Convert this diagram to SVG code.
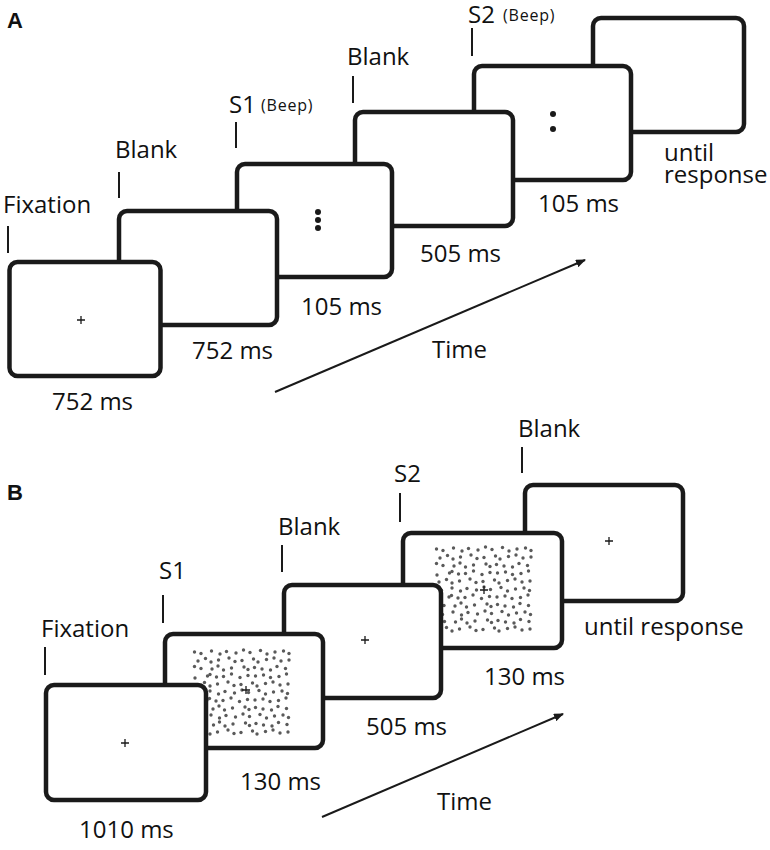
<svg xmlns="http://www.w3.org/2000/svg" xmlns:xlink="http://www.w3.org/1999/xlink" width="770" height="850" viewBox="0 0 770 850">
<style>
.scr{fill:#fff;stroke:#1a1a1a;stroke-width:4.5}
.tick{stroke:#1a1a1a;stroke-width:2}
.t{font-family:"Open Sans","Noto Sans",sans-serif;font-size:24px;fill:#111}
.s{font-family:"Open Sans","Noto Sans",sans-serif;font-size:16px;fill:#111;letter-spacing:0.8px}
.pl{font-family:"Liberation Sans",Arial,sans-serif;font-size:22px;font-weight:bold;fill:#111}
.cr{stroke:#1a1a1a;stroke-width:1.3}
.dt{fill:#1a1a1a}
.arr{stroke:#1a1a1a;stroke-width:2;fill:none}
</style>
<defs>
<marker id="ah" markerWidth="10" markerHeight="8" refX="9" refY="4" orient="auto" markerUnits="userSpaceOnUse" viewBox="0 0 10 8">
<path d="M0,0 L10,4 L0,8 Z" fill="#1a1a1a"/>
</marker>
<g id="cross"><path class="cr" d="M-4,0 H4 M0,-4 V4"/></g>
<g id="r1" fill="#5a5a5a"><circle cx="1.5" cy="0" r="1.7"/><circle cx="8" cy="1.5" r="1.7"/><circle cx="18.5" cy="-1" r="1.7"/><circle cx="27" cy="2" r="1.7"/><circle cx="33.5" cy="-0.5" r="1.7"/><circle cx="43" cy="1" r="1.7"/><circle cx="50.5" cy="-2" r="1.7"/><circle cx="57" cy="0.5" r="1.7"/><circle cx="67.5" cy="-1.5" r="1.7"/><circle cx="74" cy="2" r="1.7"/><circle cx="82" cy="0" r="1.7"/><circle cx="90.5" cy="-1" r="1.7"/><circle cx="96" cy="1.5" r="1.7"/></g>
<g id="r2" fill="#5a5a5a"><circle cx="4" cy="1" r="1.7"/><circle cx="11.5" cy="-1.5" r="1.7"/><circle cx="17" cy="2" r="1.7"/><circle cx="24.5" cy="0" r="1.7"/><circle cx="35" cy="-2" r="1.7"/><circle cx="41" cy="1.5" r="1.7"/><circle cx="48" cy="0.5" r="1.7"/><circle cx="59.5" cy="-1" r="1.7"/><circle cx="64" cy="2" r="1.7"/><circle cx="72.5" cy="-0.5" r="1.7"/><circle cx="80" cy="-2" r="1.7"/><circle cx="87" cy="1" r="1.7"/><circle cx="95" cy="0" r="1.7"/></g>
<g id="r3" fill="#5a5a5a"><circle cx="2.5" cy="-1.5" r="1.7"/><circle cx="9" cy="0.5" r="1.7"/><circle cx="20" cy="1" r="1.7"/><circle cx="26" cy="-2" r="1.7"/><circle cx="31.5" cy="2" r="1.7"/><circle cx="39.5" cy="0" r="1.7"/><circle cx="52" cy="-1" r="1.7"/><circle cx="56" cy="1.5" r="1.7"/><circle cx="62.5" cy="-0.5" r="1.7"/><circle cx="70" cy="1" r="1.7"/><circle cx="78.5" cy="2" r="1.7"/><circle cx="85" cy="-1.5" r="1.7"/><circle cx="93.5" cy="0.5" r="1.7"/></g>
<g id="r4" fill="#5a5a5a"><circle cx="0.5" cy="2" r="1.7"/><circle cx="13" cy="0" r="1.7"/><circle cx="15.5" cy="-1.5" r="1.7"/><circle cx="22" cy="1" r="1.7"/><circle cx="29" cy="0.5" r="1.7"/><circle cx="37" cy="-2" r="1.7"/><circle cx="45.5" cy="1.5" r="1.7"/><circle cx="53.5" cy="-0.5" r="1.7"/><circle cx="61" cy="0" r="1.7"/><circle cx="69" cy="-1" r="1.7"/><circle cx="76" cy="1.5" r="1.7"/><circle cx="84.5" cy="0.5" r="1.7"/><circle cx="92" cy="-2" r="1.7"/></g>
<g id="patch">
<use xlink:href="#r1" x="0" y="2"/><use xlink:href="#r2" x="1" y="10"/><use xlink:href="#r3" x="-1" y="18"/><use xlink:href="#r4" x="1.5" y="26"/><use xlink:href="#r2" x="0" y="34"/><use xlink:href="#r1" x="-1.5" y="42"/><use xlink:href="#r4" x="1" y="50"/><use xlink:href="#r3" x="0" y="58"/><use xlink:href="#r1" x="-0.5" y="66"/><use xlink:href="#r3" x="0.5" y="74"/><use xlink:href="#r2" x="0" y="82"/>
</g>
</defs>
<rect width="770" height="850" fill="#fff"/>

<!-- Panel A -->
<text class="pl" x="7" y="28">A</text>
<g id="a-resp"><rect class="scr" x="593" y="18" width="151" height="114" rx="8"/><text class="t" x="664" y="161">until</text><text class="t" x="664" y="183">response</text></g>
<g id="a-s2"><rect class="scr" x="474" y="66" width="157" height="114" rx="8"/><circle class="dt" cx="553" cy="114" r="3"/><circle class="dt" cx="553" cy="129" r="3"/><line class="tick" x1="472" y1="28" x2="472" y2="56"/><text class="t" x="468" y="23">S2</text><text class="s" x="503" y="21">(Beep)</text><text class="t" x="538" y="212">105 ms</text></g>
<g id="a-blank2"><rect class="scr" x="355" y="112" width="158" height="114" rx="8"/><line class="tick" x1="353" y1="76" x2="353" y2="103"/><text class="t" x="347" y="65">Blank</text><text class="t" x="420" y="262">505 ms</text></g>
<g id="a-s1"><rect class="scr" x="237" y="164" width="155" height="113" rx="8"/><circle class="dt" cx="318" cy="212" r="3"/><circle class="dt" cx="318" cy="220" r="3"/><circle class="dt" cx="318" cy="228" r="3"/><line class="tick" x1="236" y1="122" x2="236" y2="148"/><text class="t" x="229" y="113">S1</text><text class="s" x="261" y="111">(Beep)</text><text class="t" x="301" y="315">105 ms</text></g>
<g id="a-blank1"><rect class="scr" x="119" y="211" width="158" height="114" rx="8"/><line class="tick" x1="119" y1="172" x2="119" y2="198"/><text class="t" x="115" y="158">Blank</text><text class="t" x="192" y="359">752 ms</text></g>
<g id="a-fix"><rect class="scr" x="9.5" y="262" width="151" height="114" rx="8"/><use xlink:href="#cross" x="81" y="320"/><line class="tick" x1="8" y1="226" x2="8" y2="253"/><text class="t" x="3" y="213">Fixation</text><text class="t" x="52" y="410">752 ms</text></g>
<g id="a-time"><line class="arr" x1="275" y1="392" x2="585" y2="260" marker-end="url(#ah)"/><text class="t" x="432" y="358">Time</text></g>

<!-- Panel B -->
<text class="pl" x="7" y="500">B</text>
<g id="b-resp"><rect class="scr" x="525" y="485" width="158" height="116" rx="8"/><use xlink:href="#cross" x="609" y="541"/><line class="tick" x1="522" y1="447" x2="522" y2="473"/><text class="t" x="518" y="437">Blank</text><text class="t" x="584" y="635">until response</text></g>
<g id="b-s2"><rect class="scr" x="403" y="533" width="159" height="115" rx="8"/><use xlink:href="#patch" x="435" y="547"/><use xlink:href="#cross" x="484" y="590"/><line class="tick" x1="400" y1="493" x2="400" y2="522"/><text class="t" x="394" y="482">S2</text><text class="t" x="484" y="685">130 ms</text></g>
<g id="b-blank"><rect class="scr" x="284" y="585" width="157" height="113" rx="8"/><use xlink:href="#cross" x="365" y="640"/><line class="tick" x1="282" y1="545" x2="282" y2="572"/><text class="t" x="278" y="535">Blank</text><text class="t" x="366" y="735">505 ms</text></g>
<g id="b-s1"><rect class="scr" x="165" y="634" width="158" height="114" rx="8"/><use xlink:href="#patch" x="193" y="650"/><use xlink:href="#cross" x="246" y="690"/><line class="tick" x1="163" y1="595" x2="163" y2="623"/><text class="t" x="159" y="579">S1</text><text class="t" x="240" y="790">130 ms</text></g>
<g id="b-fix"><rect class="scr" x="46" y="685" width="160" height="115" rx="8"/><use xlink:href="#cross" x="125" y="743"/><line class="tick" x1="45" y1="647" x2="45" y2="675"/><text class="t" x="41" y="637">Fixation</text><text class="t" x="79" y="838">1010 ms</text></g>
<g id="b-time"><line class="arr" x1="322" y1="817" x2="563" y2="714" marker-end="url(#ah)"/><text class="t" x="437" y="810">Time</text></g>
</svg>
